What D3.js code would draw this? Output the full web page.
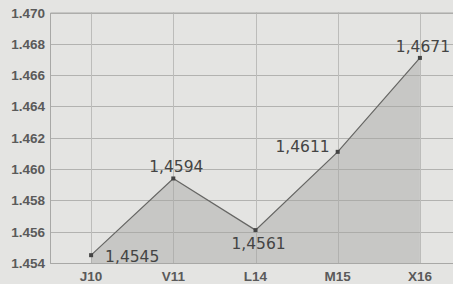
<!DOCTYPE html>
<html>
<head>
<meta charset="utf-8">
<script src="https://cdn.jsdelivr.net/npm/d3@7"></script>
<style>
  body { margin: 0; background: #e4e4e2; }
  svg { display: block; }
</style>
</head>
<body>
<div id="container"></div>
<script>
let w = 453;
let h = 284;

let categories = ["J10", "V11", "L14", "M15", "X16"];
let values = [1.4545, 1.4594, 1.4561, 1.4611, 1.4671];
let labels = ["1,4545", "1,4594", "1,4561", "1,4611", "1,4671"];
let yTicks = [1.454, 1.456, 1.458, 1.460, 1.462, 1.464, 1.466, 1.468, 1.470];

// where each value label sits relative to its point
let labelPos = ["right", "top", "bottom", "left", "top"];

let plotLeft = 50, plotTop = 12.5, plotBottom = 263;

let x = d3.scalePoint().domain(categories).range([plotLeft, 461]).padding(0.5);
let y = d3.scaleLinear().domain([1.454, 1.470]).range([plotBottom, plotTop]);

let viz = d3.select("#container")
  .append("svg")
  .attr("width", w)
  .attr("height", h)
  .style("background-color", "#e4e4e2");

// grid
viz.append("g")
  .selectAll("line")
  .data(yTicks)
  .join("line")
  .attr("x1", plotLeft)
  .attr("x2", w)
  .attr("y1", d => Math.round(y(d)) + 0.5)
  .attr("y2", d => Math.round(y(d)) + 0.5)
  .attr("stroke", "#b2b2b0")
  .attr("stroke-width", 1);

viz.append("g")
  .selectAll("line")
  .data(categories)
  .join("line")
  .attr("x1", d => Math.round(x(d)) + 0.5)
  .attr("x2", d => Math.round(x(d)) + 0.5)
  .attr("y1", plotTop)
  .attr("y2", plotBottom)
  .attr("stroke", "#bcbcba")
  .attr("stroke-width", 1);

// area + line
let pts = categories.map((c, i) => [x(c), y(values[i])]);

viz.append("path")
  .attr("d", d3.area().x(d => d[0]).y0(plotBottom).y1(d => d[1])(pts))
  .attr("fill", "#a4a4a2")
  .attr("fill-opacity", 0.45);

viz.append("path")
  .attr("d", d3.line()(pts))
  .attr("fill", "none")
  .attr("stroke", "#666664")
  .attr("stroke-width", 1.2);

viz.append("g")
  .selectAll("rect")
  .data(pts)
  .join("rect")
  .attr("x", d => d[0] - 2)
  .attr("y", d => d[1] - 2)
  .attr("width", 4)
  .attr("height", 4)
  .attr("fill", "#444");

// plot border (left, top, bottom)
viz.append("path")
  .attr("d", `M${w},${plotTop + 0.5}H${plotLeft + 0.5}V${plotBottom + 0.5}H${w}`)
  .attr("fill", "none")
  .attr("stroke", "#a8a8a6")
  .attr("stroke-width", 1);

// y axis labels
viz.append("g")
  .selectAll("text")
  .data(yTicks)
  .join("text")
  .attr("x", 45)
  .attr("y", d => y(d) + 5)
  .attr("text-anchor", "end")
  .attr("font-family", "Liberation Sans, Arial, sans-serif")
  .attr("font-size", 13.5)
  .attr("font-weight", "bold")
  .attr("fill", "#5a5a5a")
  .text(d => d.toFixed(3));

// x axis labels
viz.append("g")
  .selectAll("text")
  .data(categories)
  .join("text")
  .attr("x", d => x(d))
  .attr("y", 281)
  .attr("text-anchor", "middle")
  .attr("font-family", "Liberation Sans, Arial, sans-serif")
  .attr("font-size", 13.5)
  .attr("font-weight", "bold")
  .attr("fill", "#5a5a5a")
  .text(d => d);

// value labels
viz.append("g")
  .selectAll("text")
  .data(pts)
  .join("text")
  .attr("x", (d, i) => labelPos[i] === "right" ? d[0] + 14 : labelPos[i] === "left" ? d[0] - 8 : d[0] + 3)
  .attr("y", (d, i) => labelPos[i] === "top" ? d[1] - 6 : labelPos[i] === "bottom" ? d[1] + 19 : labelPos[i] === "right" ? d[1] + 7 : d[1])
  .attr("text-anchor", (d, i) => labelPos[i] === "right" ? "start" : labelPos[i] === "left" ? "end" : "middle")
  .attr("font-family", "DejaVu Sans, Verdana, sans-serif")
  .attr("font-size", 15.5)
  .attr("fill", "#444")
  .text((d, i) => labels[i]);
</script>
</body>
</html>
